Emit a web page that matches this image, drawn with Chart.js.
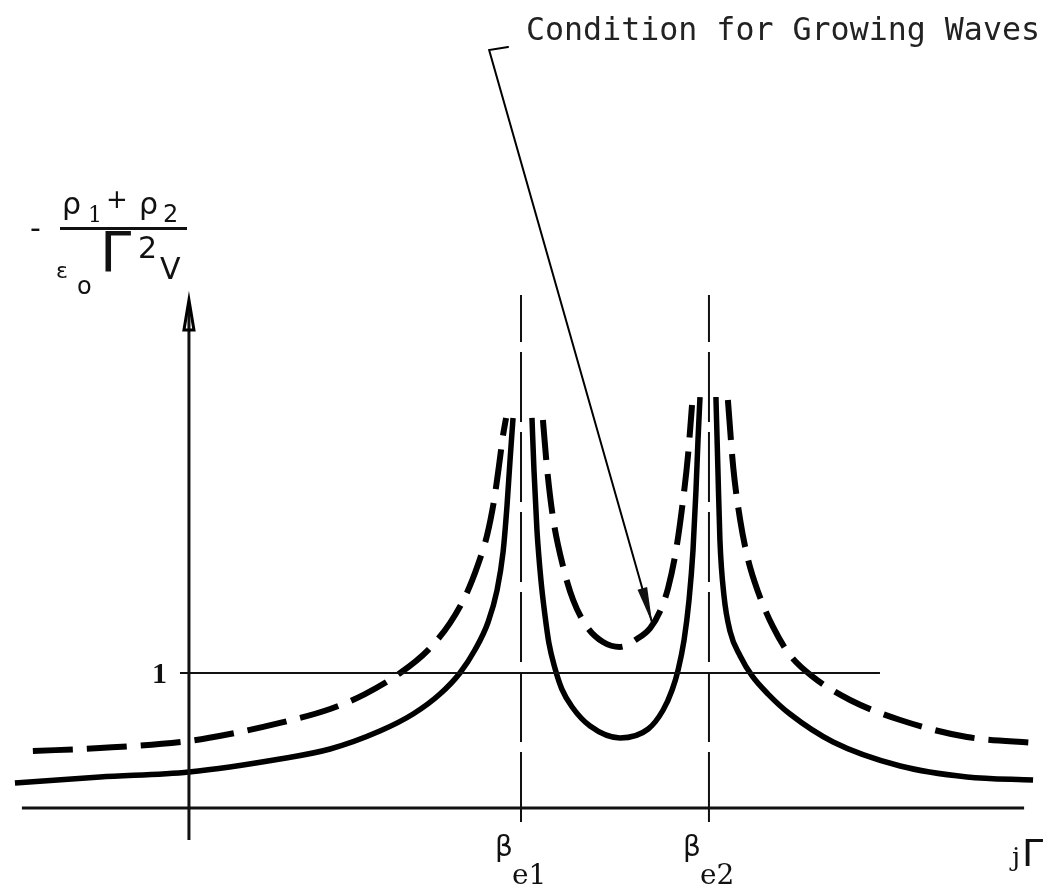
<!DOCTYPE html>
<html>
<head>
<meta charset="utf-8">
<script src="https://cdn.jsdelivr.net/npm/chart.js@4"></script>
<style>
  html, body { margin: 0; padding: 0; background: #fff; }
  canvas { display: block; }
</style>
</head>
<body>
<canvas id="chart" width="1048" height="894"></canvas>
<script>
// x in units of beta_e1 (y-axis at 0), y in units where the "1" line is 1
// null splits the curve at the clipped peaks
var solidX = [-0.524, -0.268, 0, 0.274, 0.425, 0.575, 0.675, 0.756, 0.816, 0.861, 0.901, 0.928, 0.946, 0.958, 0.967, 0.976,
  null, 1.033, 1.039, 1.048, 1.060, 1.072, 1.084, 1.102, 1.123, 1.154, 1.208, 1.298, 1.383, 1.428, 1.455, 1.473, 1.491, 1.506, 1.518, 1.527, 1.533, 1.539,
  null, 1.587, 1.593, 1.599, 1.611, 1.630, 1.660, 1.696, 1.744, 1.810, 1.940, 2.142, 2.343, 2.542];
var solidY = [0.185, 0.230, 0.267, 0.363, 0.437, 0.570, 0.696, 0.844, 1.000, 1.170, 1.378, 1.615, 1.896, 2.244, 2.578, 2.889,
  null, 2.889, 2.504, 2.059, 1.689, 1.430, 1.222, 1.037, 0.881, 0.748, 0.607, 0.519, 0.585, 0.726, 0.874, 1.022, 1.244, 1.541, 1.911, 2.356, 2.726, 3.044,
  null, 3.044, 2.504, 1.985, 1.578, 1.304, 1.126, 0.978, 0.844, 0.696, 0.489, 0.311, 0.230, 0.207];

var dashX = [-0.470, -0.268, 0, 0.123, 0.274, 0.425, 0.530, 0.636, 0.720, 0.786, 0.834, 0.870, 0.898, 0.919, 0.934, 0.946, 0.955,
  null, 1.066, 1.078, 1.096, 1.127, 1.157, 1.199, 1.247, 1.298, 1.349, 1.389, 1.419, 1.443, 1.467, 1.488, 1.503, 1.515,
  null, 1.623, 1.639, 1.660, 1.684, 1.714, 1.759, 1.810, 1.880, 1.991, 2.142, 2.343, 2.554];
var dashY = [0.422, 0.444, 0.496, 0.548, 0.630, 0.733, 0.844, 1.000, 1.170, 1.370, 1.578, 1.800, 2.022, 2.281, 2.541, 2.763, 2.889,
  null, 2.874, 2.526, 2.156, 1.785, 1.541, 1.341, 1.230, 1.193, 1.252, 1.333, 1.459, 1.630, 1.911, 2.281, 2.615, 2.985,
  null, 3.022, 2.526, 2.133, 1.837, 1.600, 1.341, 1.133, 0.970, 0.800, 0.652, 0.526, 0.481];

var betaX = [1.0, 1.566];
var betaLabels = ['e1', 'e2'];
var betaSpan = [-0.104, 3.80];
var baseSpan = [-0.503, 2.515];
var oneSpan = [-0.027, 2.081];
var axisSpan = [-0.237, 3.704];
var arrowFrom = [0.904, 5.615];
var arrowHook = [0.961, 5.637];
var arrowTo = [1.395, 1.370];
var noteText = 'Condition for Growing Waves';

function pts(xs, ys) {
  return xs.map(function (v, i) { return { x: v, y: ys[i] }; });
}
function seg(xs, ys) {
  return [{ x: xs[0], y: ys[0] }, { x: xs[1], y: ys[1] }];
}

function guide(data, width, dash) {
  return {
    data: data, borderColor: '#111', borderWidth: width, borderDash: dash || [],
    pointRadius: 0, showLine: true, tension: 0
  };
}

var datasets = [
  guide(seg(baseSpan, [0, 0]), 3),
  guide(seg(oneSpan, [1, 1]), 2),
  guide(seg([0, 0], axisSpan), 3),
  guide(seg([betaX[0], betaX[0]], betaSpan), 2, [70, 10]),
  guide(seg([betaX[1], betaX[1]], betaSpan), 2, [70, 10]),
  {
    data: pts(solidX, solidY), borderColor: '#000', borderWidth: 5.5,
    pointRadius: 0, showLine: true, cubicInterpolationMode: 'monotone', spanGaps: false
  },
  {
    data: pts(dashX, dashY), borderColor: '#000', borderWidth: 6, borderDash: [40, 14],
    pointRadius: 0, showLine: true, cubicInterpolationMode: 'monotone', spanGaps: false
  }
];

var overlay = {
  id: 'overlay',
  afterDatasetsDraw: function (chart) {
    var ctx = chart.ctx, xs = chart.scales.x, ys = chart.scales.y;
    function X(v) { return xs.getPixelForValue(v); }
    function Y(v) { return ys.getPixelForValue(v); }
    ctx.save();
    ctx.strokeStyle = '#000';
    ctx.fillStyle = '#111';
    ctx.lineCap = 'round';

    // arrowhead of y axis
    ctx.lineWidth = 3;
    ctx.beginPath();
    ctx.moveTo(X(0), Y(axisSpan[1]) - 8);
    ctx.lineTo(X(0) - 5, Y(axisSpan[1]) + 22);
    ctx.lineTo(X(0) + 5, Y(axisSpan[1]) + 22);
    ctx.closePath();
    ctx.stroke();

    // pointer line
    var x0 = X(arrowFrom[0]), y0 = Y(arrowFrom[1]);
    var x1 = X(arrowTo[0]), y1 = Y(arrowTo[1]);
    ctx.lineWidth = 2;
    ctx.beginPath();
    ctx.moveTo(X(arrowHook[0]), Y(arrowHook[1]));
    ctx.lineTo(x0, y0);
    ctx.lineTo(x1, y1);
    ctx.stroke();
    var ang = Math.atan2(y1 - y0, x1 - x0);
    ctx.beginPath();
    ctx.moveTo(x1, y1);
    ctx.lineTo(x1 - 36 * Math.cos(ang) + 5 * Math.sin(ang), y1 - 36 * Math.sin(ang) - 5 * Math.cos(ang));
    ctx.lineTo(x1 - 36 * Math.cos(ang) - 5 * Math.sin(ang), y1 - 36 * Math.sin(ang) + 5 * Math.cos(ang));
    ctx.closePath();
    ctx.fill();

    // note
    ctx.textBaseline = 'alphabetic';
    ctx.textAlign = 'left';
    ctx.font = '32px "DejaVu Sans Mono"';
    ctx.fillStyle = '#222';
    ctx.fillText(noteText, 526, 40, 514);

    // "1" tick label
    ctx.fillStyle = '#111';
    ctx.font = 'bold 30px "Liberation Serif"';
    ctx.textAlign = 'right';
    ctx.fillText('1', X(0) - 22, Y(1) + 10);

    // beta labels
    ctx.textAlign = 'left';
    betaX.forEach(function (b, i) {
      var bx = X(b) - 26;
      ctx.font = '28px "DejaVu Sans"';
      ctx.fillText('\u03b2', bx, 856);
      ctx.font = '28px "DejaVu Serif"';
      ctx.fillText(betaLabels[i], bx + 17, 884);
    });

    // j Gamma at end of x axis
    ctx.font = '26px "DejaVu Serif"';
    ctx.fillText('j', 1012, 866);
    ctx.font = '38px "DejaVu Sans"';
    ctx.fillText('\u0393', 1022, 866);

    // y axis quantity
    ctx.font = '30px "DejaVu Sans"';
    ctx.fillText('-', 30, 238);
    ctx.fillText('\u03c1', 62, 214);
    ctx.font = '22px "DejaVu Serif"';
    ctx.fillText('1', 88, 222);
    ctx.font = '26px "DejaVu Sans"';
    ctx.fillText('+', 106, 208);
    ctx.font = '30px "DejaVu Sans"';
    ctx.fillText('\u03c1', 139, 214);
    ctx.font = '24px "DejaVu Sans"';
    ctx.fillText('2', 163, 222);
    ctx.fillRect(60, 227, 127, 3);
    ctx.font = '22px "DejaVu Sans"';
    ctx.fillText('\u03b5', 56, 278);
    ctx.font = '24px "DejaVu Sans"';
    ctx.fillText('o', 77, 294);
    ctx.font = '56px "DejaVu Sans"';
    ctx.fillText('\u0393', 100, 271);
    ctx.font = '30px "DejaVu Sans"';
    ctx.fillText('2', 138, 258);
    ctx.fillText('V', 160, 279);
    ctx.restore();
  }
};

new Chart(document.getElementById('chart'), {
  type: 'scatter',
  data: { datasets: datasets },
  options: {
    responsive: false,
    devicePixelRatio: 1,
    animation: false,
    layout: { padding: 0 },
    plugins: { legend: { display: false }, tooltip: { enabled: false } },
    scales: {
      x: { type: 'linear', display: false, min: -0.569, max: 2.587 },
      y: { type: 'linear', display: false, min: -0.637, max: 5.985 }
    }
  },
  plugins: [overlay]
});
</script>
</body>
</html>
